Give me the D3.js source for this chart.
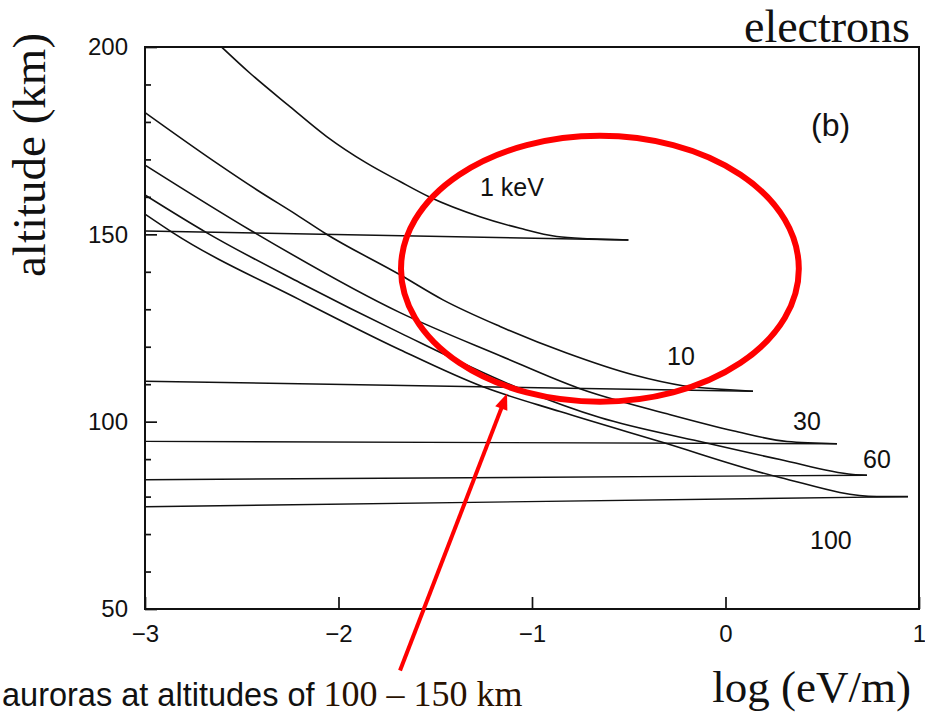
<!DOCTYPE html>
<html>
<head>
<meta charset="utf-8">
<script src="https://cdn.jsdelivr.net/npm/d3@7"></script>
<style>
  html, body { margin: 0; padding: 0; background: #fff; }
  svg { display: block; }
</style>
</head>
<body>
<svg id="chart" width="925" height="713"></svg>
<script>
// Electron energy deposition profiles: altitude against log10 of deposition rate (eV/m)

const energies = ["1 keV", "10", "30", "60", "100"];

// Upper branch of each profile, [log (eV/m), altitude km], running down to the peak
const upper1 = [[-2.604, 200], [-2.457, 193.0], [-2.251, 184.1], [-2.061, 176.1], [-1.854, 169.0],
  [-1.682, 164.1], [-1.527, 159.9], [-1.269, 154.7], [-1.062, 151.6], [-0.872, 149.4],
  [-0.70, 148.8], [-0.502, 148.5]];
const upper10 = [[-3, 182.5], [-2.629, 169.0], [-2.423, 161.9], [-2.216, 155.2], [-2.070, 150.3],
  [-1.682, 139.2], [-1.460, 132.5], [-1.165, 125.4], [-0.821, 118.3], [-0.478, 112.5],
  [-0.220, 109.6], [0.0, 108.6], [0.142, 108.1]];
const upper30 = [[-3, 168.5], [-2.442, 150.7], [-1.682, 129.1], [-1.165, 117.6], [-0.752, 108.8],
  [-0.302, 102.1], [0.039, 97.6], [0.318, 94.7], [0.576, 94.1]];
const upper60 = [[-3, 160.5], [-2.680, 150.4], [-2.199, 137.1], [-1.682, 123.7], [-1.062, 108.8],
  [-0.649, 101.1], [-0.132, 94.7], [0.282, 89.9], [0.659, 85.9], [0.731, 85.7]];
const upper100 = [[-3, 155.4], [-2.855, 150.4], [-2.199, 132.5], [-1.682, 119.2], [-1.253, 109.3],
  [-0.855, 102.7], [-0.339, 94.7], [0.282, 85.1], [0.783, 80.0], [0.943, 80.0]];

// Lower branch: the nearly level return from the peak back to the left edge
const lower1 = [[-3, 150.9], [-0.502, 148.5]];
const lower10 = [[-3, 110.8], [0.142, 108.1]];
const lower30 = [[-3, 94.75], [0.576, 94.1]];
const lower60 = [[-3, 84.5], [0.731, 85.7]];
const lower100 = [[-3, 77.3], [0.943, 80.0]];

const xTicks = [-3, -2, -1, 0, 1];
const yMajorTicks = [50, 100, 150, 200];
const yMinorTicks = [60, 70, 80, 90, 110, 120, 130, 140, 160, 170, 180, 190];

// Label anchors for each curve, in data units
const curveLabelAt = [[-1.269, 160.3], [-0.302, 115.2], [0.349, 97.9], [0.711, 87.7], [0.437, 65.9]];

// Highlighted auroral band: ellipse centre and radii in data units
const bandCentre = [-0.649, 140.8];
const bandRadius = [1.028, 35.5];
// Pointer from the caption up to the band
const pointerFrom = [-1.682, 33.6];
const pointerTo = [-1.129, 107.5];

const plot = { left: 145, right: 919, top: 47, bottom: 609 };

const svg = d3.select("#chart");

const x = d3.scaleLinear().domain([-3, 1]).range([plot.left, plot.right]);
const y = d3.scaleLinear().domain([50, 200]).range([plot.bottom, plot.top]);

const ink = "#111";
const sans = "'Liberation Sans', Arial, Helvetica, sans-serif";
const serif = "'Liberation Serif', 'Times New Roman', Times, serif";

svg.append("defs").append("clipPath").attr("id", "plotClip")
  .append("rect")
  .attr("x", plot.left).attr("y", plot.top)
  .attr("width", plot.right - plot.left).attr("height", plot.bottom - plot.top);

// Curves
const line = d3.line().x(d => x(d[0])).y(d => y(d[1])).curve(d3.curveMonotoneX);
const uppers = [upper1, upper10, upper30, upper60, upper100];
const lowers = [lower1, lower10, lower30, lower60, lower100];

const curves = svg.append("g").attr("clip-path", "url(#plotClip)")
  .attr("fill", "none").attr("stroke", ink).attr("stroke-width", 1.6);
curves.selectAll("path.upper").data(uppers).join("path")
  .attr("class", "upper").attr("d", line);
curves.selectAll("path.lower").data(lowers).join("path")
  .attr("class", "lower").attr("stroke-width", 1.4)
  .attr("d", d3.line().x(d => x(d[0])).y(d => y(d[1])));

// Y axis: major ticks with labels, minor ticks every 10 km
const yAxis = svg.append("g").attr("transform", `translate(${plot.left},0)`)
  .call(d3.axisLeft(y).tickValues(yMajorTicks).tickSize(-12).tickPadding(17).tickFormat(d3.format("d")));
const yMinor = svg.append("g").attr("transform", `translate(${plot.left},0)`)
  .call(d3.axisLeft(y).tickValues(yMinorTicks).tickSize(-6).tickFormat(""));

// X axis
const xAxis = svg.append("g").attr("transform", `translate(0,${plot.bottom})`)
  .call(d3.axisBottom(x).tickValues(xTicks).tickSize(-12).tickPadding(16).tickFormat(d3.format("d")));

[yAxis, yMinor, xAxis].forEach(g => {
  g.select(".domain").remove();
  g.selectAll(".tick line").attr("stroke", ink).attr("stroke-width", 1.7);
  g.selectAll(".tick text").attr("fill", ink).style("font-family", sans).style("font-size", "24px");
});

// Frame
svg.append("rect")
  .attr("x", plot.left).attr("y", plot.top)
  .attr("width", plot.right - plot.left).attr("height", plot.bottom - plot.top)
  .attr("fill", "none").attr("stroke", ink).attr("stroke-width", 2);

// Curve labels
svg.append("g").selectAll("text").data(energies).join("text")
  .attr("x", (d, i) => x(curveLabelAt[i][0]))
  .attr("y", (d, i) => y(curveLabelAt[i][1]))
  .attr("fill", ink)
  .style("font-family", sans).style("font-size", "25px")
  .text(d => d);

// Panel tag
svg.append("text").attr("x", 811).attr("y", 136)
  .attr("fill", ink).style("font-family", sans).style("font-size", "32px")
  .text("(b)");

// Axis titles
svg.append("text")
  .attr("transform", "translate(45,155) rotate(-90)")
  .attr("text-anchor", "middle").attr("fill", ink)
  .style("font-family", serif).style("font-size", "47px")
  .text("altitude (km)");

svg.append("text").attr("x", 911).attr("y", 702)
  .attr("text-anchor", "end").attr("fill", ink)
  .style("font-family", serif).style("font-size", "45px")
  .text("log (eV/m)");

svg.append("text").attr("x", 910).attr("y", 42)
  .attr("text-anchor", "end").attr("fill", ink)
  .style("font-family", serif).style("font-size", "46px")
  .text("electrons");

// Highlighted band
const cx = x(bandCentre[0]), cy = y(bandCentre[1]);
svg.append("ellipse")
  .attr("cx", cx).attr("cy", cy)
  .attr("rx", x(bandCentre[0] + bandRadius[0]) - cx)
  .attr("ry", cy - y(bandCentre[1] + bandRadius[1]))
  .attr("fill", "none").attr("stroke", "#ff0000").attr("stroke-width", 6);

// Pointer arrow
const p0 = [x(pointerFrom[0]), y(pointerFrom[1])];
const p1 = [x(pointerTo[0]), y(pointerTo[1])];
const len = Math.hypot(p1[0] - p0[0], p1[1] - p0[1]);
const ux = (p1[0] - p0[0]) / len, uy = (p1[1] - p0[1]) / len;
const headLen = 16, headHalf = 6.5;
const hb = [p1[0] - ux * headLen, p1[1] - uy * headLen];
svg.append("line")
  .attr("x1", p0[0]).attr("y1", p0[1]).attr("x2", hb[0] + ux * 2).attr("y2", hb[1] + uy * 2)
  .attr("stroke", "#ff0000").attr("stroke-width", 4);
svg.append("path")
  .attr("d", `M${p1[0]},${p1[1]} L${hb[0] - uy * headHalf},${hb[1] + ux * headHalf} L${hb[0] + uy * headHalf},${hb[1] - ux * headHalf} Z`)
  .attr("fill", "#ff0000");

// Caption
const cap = svg.append("text").attr("x", 2).attr("y", 706).attr("fill", "#111");
cap.append("tspan").style("font-family", sans).style("font-size", "32.5px")
  .text("auroras at altitudes of ");
cap.append("tspan").style("font-family", serif).style("font-size", "36px").attr("fill", "#2a1200")
  .text("100 – 150 km");
</script>
</body>
</html>
